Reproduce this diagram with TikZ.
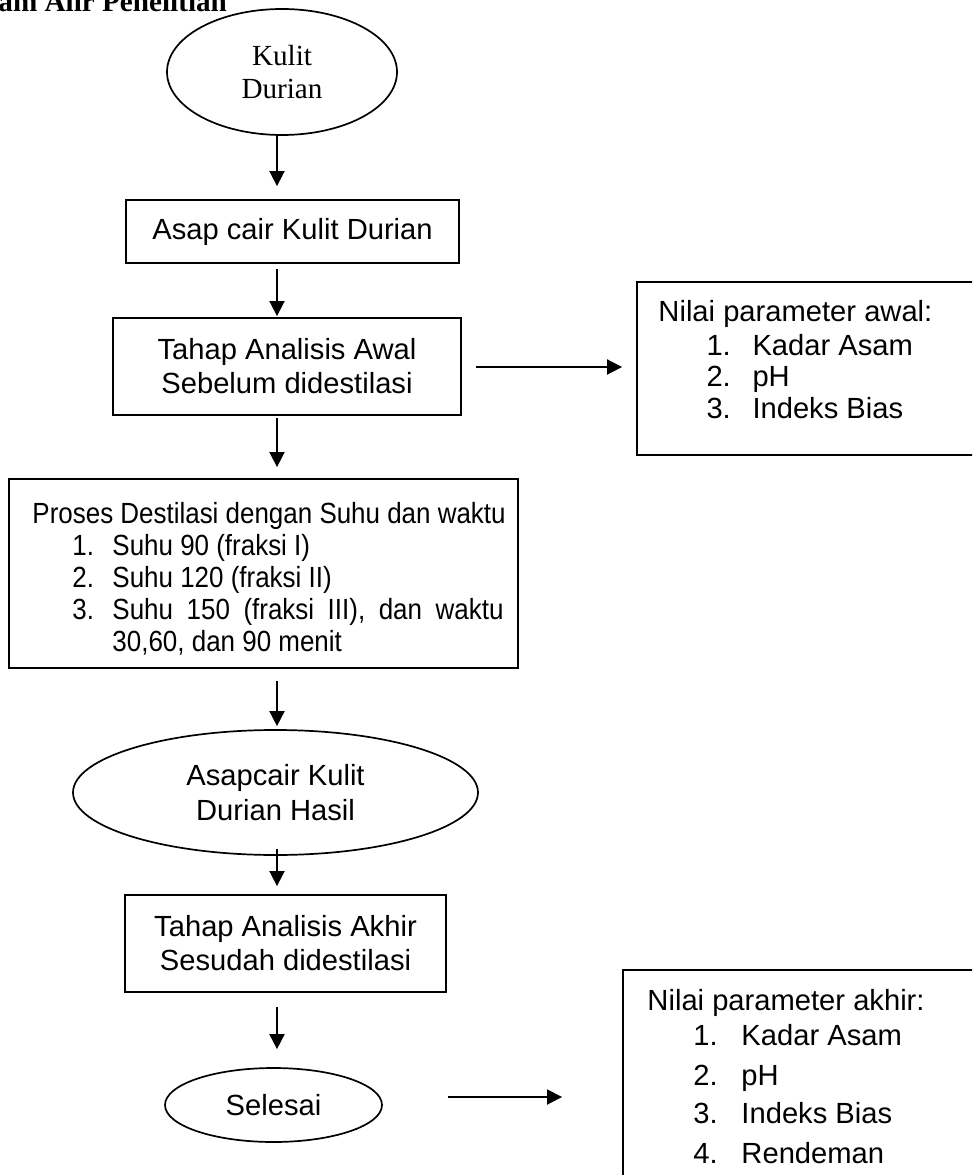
\documentclass[tikz,border=0pt]{standalone}
\usepackage{fontspec}
\usetikzlibrary{arrows.meta,shapes.geometric}
\newfontfamily\arial{Liberation Sans}
\newfontfamily\tnr{Liberation Serif}
\def\pu{0.41152pt}
\begin{document}
\begin{tikzpicture}[x=0.41152pt,y=-0.41152pt,
  box/.style={draw, line width=0.75pt, rectangle, inner sep=0pt, align=center,
    font=\arial\fontsize{12}{14}\selectfont},
  oval/.style={draw, line width=0.7pt, ellipse, inner sep=0pt, align=center,
    font=\arial\fontsize{12}{14.4}\selectfont},
  arr/.style={line width=0.7pt, -{Triangle[length=6.2pt,width=6.2pt]}},
  txt/.style={inner sep=0pt, anchor=base west, font=\arial\fontsize{12}{14}\selectfont},
]
\clip (0,0) rectangle (972,1175);
\fill[white] (0,0) rectangle (972,1175);

% title (cut off at top)
\node[inner sep=0pt, anchor=base west, font=\tnr\bfseries\fontsize{12}{14}\selectfont] (title) at (-2,12) {am Alir Penelitian};

\coordinate (col) at (277,0);

% main column
\node[oval, font=\tnr\fontsize{12}{13.6}\selectfont, minimum width=230*\pu, minimum height=126*\pu] (e1) at (282,72) {Kulit\\Durian};
\node[box, minimum width=333*\pu, minimum height=63*\pu] (b1) at (292.5,231.5) {Asap cair Kulit Durian};
\node[box, minimum width=348*\pu, minimum height=97*\pu] (b2) at (287,366.5) {Tahap Analisis Awal\\Sebelum didestilasi};
\node[box, minimum width=509*\pu, minimum height=189*\pu] (b3) at (263.5,573.5) {};
\node[oval, minimum width=405*\pu, minimum height=125*\pu] (e2) at (275.5,792.5) {Asapcair Kulit\\Durian Hasil};
\node[box, minimum width=321*\pu, minimum height=97*\pu] (b4) at (285.5,943.5) {Tahap Analisis Akhir\\Sesudah didestilasi};
\node[oval, minimum width=217*\pu, minimum height=74*\pu] (e3) at (273.5,1105) {Selesai};

% process box text
\node[txt] (p0) at (32,523) {\scalebox{0.89}[1]{Proses Destilasi dengan Suhu dan waktu}};
\node[txt] (p1n) at (72,555) {\scalebox{0.89}[1]{1.}};
\node[txt] (p1) at (112,555) {\scalebox{0.89}[1]{Suhu 90 (fraksi I)}};
\node[txt] (p2n) at (72,587) {\scalebox{0.89}[1]{2.}};
\node[txt] (p2) at (112,587) {\scalebox{0.89}[1]{Suhu 120 (fraksi II)}};
\node[txt] (p3n) at (72,619) {\scalebox{0.89}[1]{3.}};
\node[txt] (p3) at (112,619) {\scalebox{0.89}[1]{\makebox[180.8pt][s]{Suhu 150 (fraksi III), dan waktu}}};
\node[txt] (p4) at (112,651) {\scalebox{0.89}[1]{30,60, dan 90 menit}};

% right boxes
\node[box, minimum width=350*\pu, minimum height=173*\pu] (r1) at (812,368.5) {};
\node[txt] (r1t) at (658,322) {Nilai parameter awal:};
\node[txt] (r1an) at (706,355) {1.};
\node[txt] (r1a) at (752,355) {Kadar Asam};
\node[txt] (r1bn) at (706,387) {2.};
\node[txt] (r1b) at (752,387) {pH};
\node[txt] (r1cn) at (706,418) {3.};
\node[txt] (r1c) at (752,418) {Indeks Bias};

\node[box, minimum width=370*\pu, minimum height=240*\pu] (r2) at (808,1090) {};
\node[txt] (r2t) at (647,1010) {Nilai parameter akhir:};
\node[txt] (r2an) at (693,1045) {1.};
\node[txt] (r2a) at (741,1045) {Kadar Asam};
\node[txt] (r2bn) at (693,1085) {2.};
\node[txt] (r2b) at (741,1085) {pH};
\node[txt] (r2cn) at (693,1123) {3.};
\node[txt] (r2c) at (741,1123) {Indeks Bias};
\node[txt] (r2dn) at (693,1163) {4.};
\node[txt] (r2d) at (741,1163) {Rendeman};

% connectors
\draw[arr, shorten >=5.35pt] (e1.south -| col) -- (b1.north -| col);
\draw[arr, shorten <=2.06pt, shorten >=0.41pt] (b1.south -| col) -- (b2.north -| col);
\draw[arr, shorten <=0.82pt, shorten >=4.53pt] (b2.south -| col) -- (b3.north -| col);
\draw[arr, shorten <=4.94pt, shorten >=1.23pt] (b3.south -| col) -- (e2.north -| col);
\draw[arr, shorten <=-2.88pt, shorten >=3.29pt] (e2.south -| col) -- (b4.north -| col);
\draw[arr, shorten <=5.76pt, shorten >=7.41pt] (b4.south -| col) -- (e3.north -| col);
\coordinate (h1) at (0,367);
\coordinate (h2) at (0,1097);
\draw[arr, shorten <=5.76pt, shorten >=5.76pt] (b2.east |- h1) -- (r1.west |- h1);
\draw[arr, shorten <=26.75pt, shorten >=24.7pt] (e3.east |- h2) -- (r2.west |- h2);
\end{tikzpicture}
\end{document}
